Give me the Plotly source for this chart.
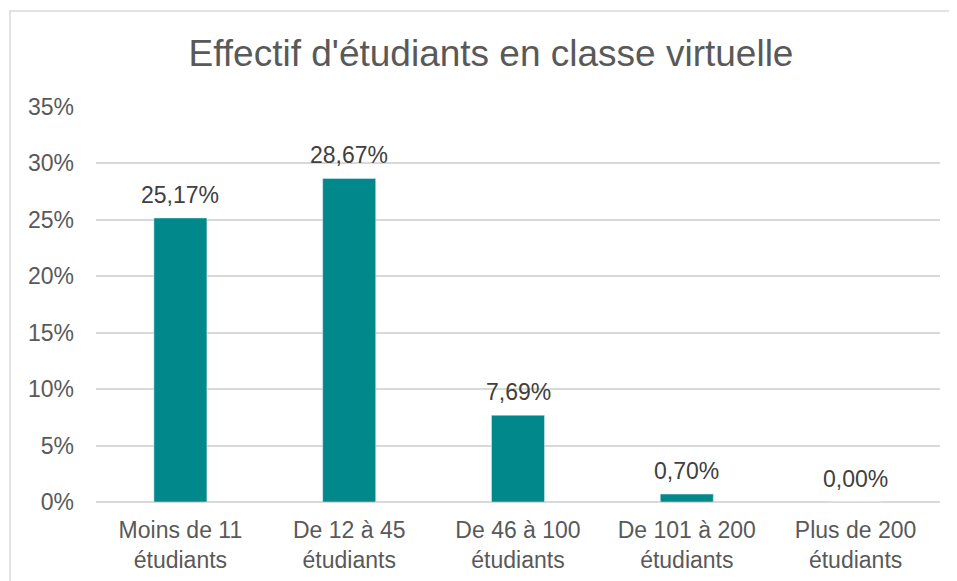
import plotly.graph_objects as go

categories = ["Moins de 11<br>étudiants", "De 12 à 45<br>étudiants", "De 46 à 100<br>étudiants",
              "De 101 à 200<br>étudiants", "Plus de 200<br>étudiants"]
values = [0.2517, 0.2867, 0.0769, 0.0070, 0.0]
y_ticks = [0, 0.05, 0.10, 0.15, 0.20, 0.25, 0.30, 0.35]

# page has an 8px body margin; the figure is sized so it ends at the window edge
OFF = 8
W, H = 957 - OFF, 581 - OFF
L, R, T, B = 96 - OFF, 17, 107 - OFF, 79
pw, ph = W - L - R, H - T - B
FONT = "Liberation Sans, Arial"

fig = go.Figure(go.Bar(
    x=categories, y=values,
    marker_color="#00888B",
    hoverinfo="skip",
))

for c, v in zip(categories, values):
    fig.add_annotation(x=c, y=v, text=f"{v * 100:.2f}%".replace(".", ","),
                       showarrow=False, yanchor="bottom", yshift=8,
                       font=dict(size=23, color="#404040", family=FONT))

def px_x(p):
    return (p - OFF - L) / pw

def px_y(p):
    return (H - B - (p - OFF)) / ph

fig.add_shape(type="rect", xref="paper", yref="paper",
              x0=px_x(10), x1=px_x(957 + 20), y0=px_y(581 + 20), y1=px_y(11),
              line=dict(color="#D9D9D9", width=1.5), layer="below")

fig.update_layout(
    width=W, height=H,
    margin=dict(l=L, r=R, t=T, b=B, autoexpand=False),
    paper_bgcolor="white", plot_bgcolor="white",
    bargap=0.686,
    showlegend=False,
    font=dict(family=FONT, color="#595959", size=23),
    title=dict(text="Effectif d'étudiants en classe virtuelle", x=px_x(491), xref="paper",
               xanchor="center",
               y=1 - (53 - OFF) / H, yanchor="middle",
               font=dict(size=37, color="#595959", family=FONT)),
)
fig.update_yaxes(range=[0, 0.35], tickvals=y_ticks, tickformat=".0%",
                 showgrid=True, gridcolor="#D9D9D9", gridwidth=1.5,
                 zeroline=True, zerolinecolor="#D9D9D9", zerolinewidth=1.5,
                 showline=False, ticklabelstandoff=21, automargin=False,
                 tickfont=dict(size=23, color="#595959"))
fig.update_xaxes(showline=False, showgrid=False, automargin=False,
                 tickfont=dict(size=23, color="#595959"), ticklabelstandoff=12)

fig.write_html("out.html")
